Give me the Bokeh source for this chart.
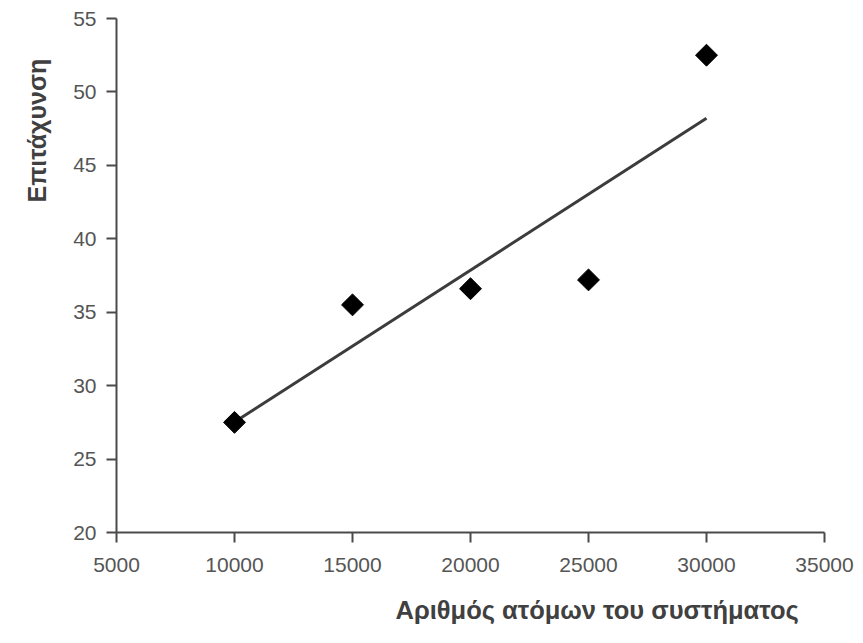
import numpy as np
from bokeh.plotting import figure
from bokeh.models import Range1d, FixedTicker, Title, ColumnDataSource
from bokeh.embed import file_html
from bokeh.resources import INLINE

# Data
atoms = [10000, 15000, 20000, 25000, 30000]
success = [27.5, 35.5, 36.6, 37.2, 52.5]
x_ticks = [5000, 10000, 15000, 20000, 25000, 30000, 35000]
y_ticks = [20, 25, 30, 35, 40, 45, 50, 55]
x_title = "Αριθμός ατόμων του συστήματος"
y_title = "Επιτάχυνση"

# linear trend (least squares)
slope, intercept = np.polyfit(atoms, success, 1)
trend_x = [min(atoms), max(atoms)]
trend_y = [slope * v + intercept for v in trend_x]

FONT = "Liberation Sans"
AXIS_COL = "#4a4a4a"

p = figure(width=855, height=643, output_backend="svg", toolbar_location=None,
           x_range=Range1d(5000, 35000), y_range=Range1d(20, 55),
           min_border_left=116, min_border_right=31, min_border_top=18, min_border_bottom=111)
p.outline_line_color = None
p.xgrid.visible = False
p.ygrid.visible = False
p.background_fill_color = "white"

for ax, ticks in ((p.xaxis[0], x_ticks), (p.yaxis[0], y_ticks)):
    ax.ticker = FixedTicker(ticks=ticks)
    ax.axis_line_color = AXIS_COL
    ax.axis_line_width = 2
    ax.major_tick_line_color = AXIS_COL
    ax.major_tick_line_width = 2
    ax.major_tick_in = 0
    ax.major_tick_out = 10
    ax.minor_tick_line_color = None
    ax.major_label_text_font = FONT
    ax.major_label_text_font_size = "21px"
    ax.major_label_text_color = "#555555"
p.xaxis[0].major_label_standoff = 15
p.yaxis[0].major_label_standoff = 10

p.line(trend_x, trend_y, line_color="#3c3c3c", line_width=3)
src = ColumnDataSource(dict(x=atoms, y=success))
p.scatter("x", "y", source=src, marker="square", angle=np.pi / 4, size=15.5,
          fill_color="black", line_color="black", line_width=1, line_join="round")

p.add_layout(Title(text=x_title, align="left", offset=279, text_font=FONT,
                   text_font_size="25.5px", text_font_style="bold", text_color="#404040",
                   standoff=38), "below")
p.add_layout(Title(text=y_title, align="left", offset=330, text_font=FONT,
                   text_font_size="25px", text_font_style="bold", text_color="#404040",
                   standoff=40), "left")

open("out.html", "w").write(file_html(p, INLINE))
